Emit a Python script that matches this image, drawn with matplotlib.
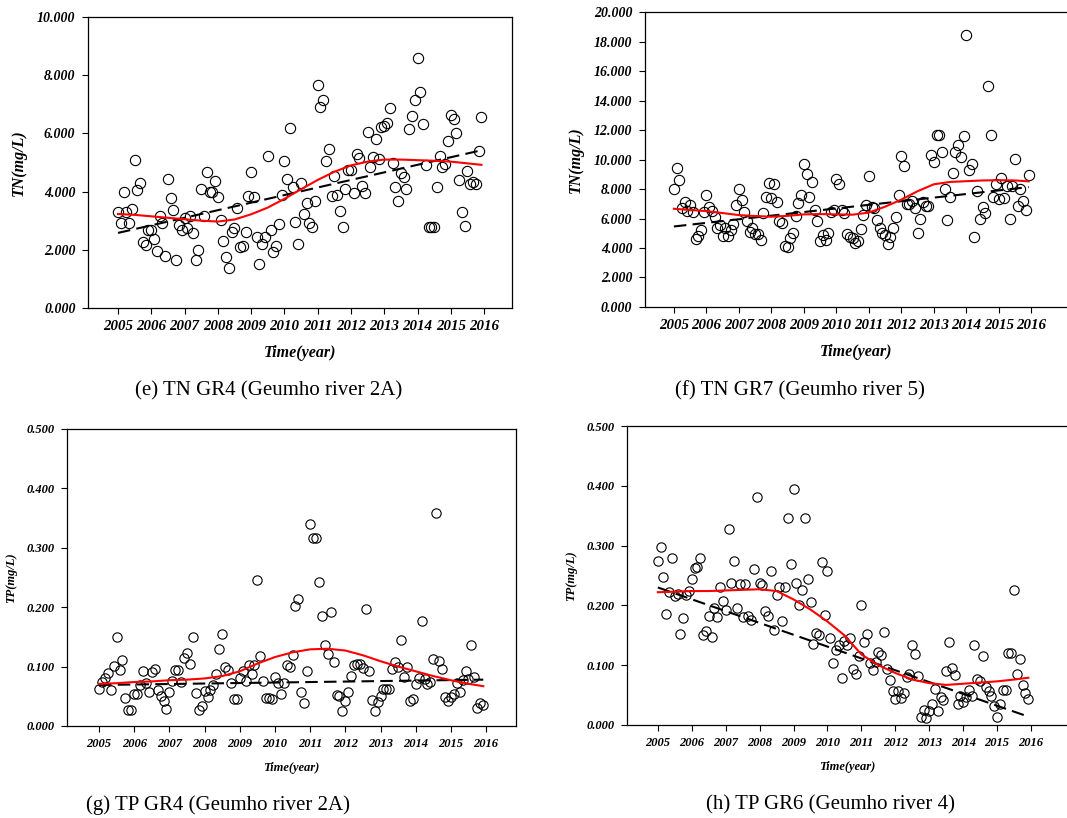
"""Monthly TN / TP concentrations at Geumho river stations, 2005-2016."""

import matplotlib

matplotlib.use("Agg")

import matplotlib.pyplot as plt
import numpy as np
from matplotlib.font_manager import FontProperties
from matplotlib.ticker import FormatStrFormatter


SERIF = "Liberation Serif"
FIRST_YEAR = 2005

# monthly measurements, Jan 2005 .. Dec 2015 (one row per year)
tn_gr4 = [
    3.30, 2.91, 4.00, 3.30, 2.93, 3.41, 5.09, 4.05, 4.30, 2.27, 2.15, 2.69,
    2.69, 2.36, 1.95, 3.15, 2.91, 1.80, 4.44, 3.79, 3.36, 1.64, 2.85, 2.69,
    3.09, 2.74, 3.17, 2.59, 1.64, 2.00, 4.08, 3.15, 4.67, 3.99, 3.99, 4.35,
    3.81, 3.04, 2.31, 1.75, 1.36, 2.60, 2.76, 3.45, 2.10, 2.12, 2.62, 3.84,
    4.69, 3.81, 2.45, 1.51, 2.19, 2.44, 5.22, 2.69, 1.92, 2.13, 2.90, 3.87,
    5.04, 4.42, 6.17, 4.17, 2.96, 2.21, 4.28, 3.24, 3.62, 2.91, 2.78, 3.68,
    7.66, 6.92, 7.14, 5.04, 5.46, 3.85, 4.55, 3.88, 3.33, 2.77, 4.08, 4.75,
    4.74, 3.96, 5.29, 5.14, 4.19, 3.96, 6.06, 4.85, 5.18, 5.80, 5.11, 6.21,
    6.27, 6.36, 6.86, 4.97, 4.17, 3.67, 4.63, 4.49, 4.08, 6.15, 6.59, 7.14,
    8.59, 7.42, 6.33, 4.91, 2.77, 2.77, 2.77, 4.15, 5.21, 4.86, 4.96, 5.75,
    6.62, 6.51, 6.01, 4.40, 3.31, 2.83, 4.70, 4.26, 4.32, 4.26, 5.41, 6.55,
]
tn_gr7 = [
    7.99, 9.41, 8.62, 6.68, 7.11, 6.52, 6.91, 6.41, 4.63, 4.83, 5.21, 6.41,
    7.56, 6.77, 6.52, 6.07, 5.33, 5.53, 4.83, 5.33, 4.83, 5.21, 5.64, 6.93,
    7.99, 7.27, 6.41, 5.82, 5.08, 5.33, 4.94, 4.94, 4.51, 6.34, 7.47, 8.42,
    7.40, 8.33, 7.11, 5.82, 5.71, 4.15, 4.06, 4.69, 4.99, 6.16, 7.02, 7.61,
    9.68, 9.05, 7.47, 8.47, 6.59, 5.80, 4.45, 4.85, 4.51, 5.01, 6.43, 6.57,
    8.67, 8.33, 6.57, 6.34, 4.94, 4.76, 4.67, 4.31, 4.45, 5.30, 6.21, 6.93,
    8.87, 6.79, 6.68, 5.91, 5.37, 5.03, 4.90, 4.27, 4.76, 5.33, 6.07, 7.58,
    10.25, 9.59, 6.99, 6.97, 7.16, 6.70, 5.03, 6.00, 7.13, 6.86, 6.88, 10.32,
    9.82, 11.63, 11.63, 10.52, 7.99, 5.89, 7.45, 9.10, 10.54, 10.95, 10.16, 11.58,
    18.42, 9.26, 9.70, 4.76, 7.85, 5.94, 6.77, 6.34, 14.99, 11.63, 7.43, 8.33,
    7.31, 8.74, 7.38, 8.22, 5.96, 8.22, 10.05, 6.86, 7.99, 7.22, 6.61, 8.94,
]
tp_gr4 = [
    0.063, 0.074, 0.080, 0.089, 0.061, 0.101, 0.150, 0.094, 0.111, 0.047, 0.027, 0.027,
    0.054, 0.054, 0.069, 0.093, 0.072, 0.058, 0.091, 0.096, 0.061, 0.050, 0.042, 0.028,
    0.058, 0.076, 0.094, 0.094, 0.074, 0.115, 0.123, 0.105, 0.150, 0.055, 0.027, 0.033,
    0.059, 0.049, 0.061, 0.069, 0.088, 0.130, 0.155, 0.099, 0.095, 0.073, 0.046, 0.046,
    0.081, 0.092, 0.075, 0.102, 0.088, 0.102, 0.246, 0.118, 0.075, 0.047, 0.047, 0.046,
    0.083, 0.072, 0.054, 0.072, 0.103, 0.099, 0.119, 0.202, 0.213, 0.057, 0.038, 0.092,
    0.340, 0.317, 0.317, 0.242, 0.185, 0.137, 0.121, 0.192, 0.108, 0.052, 0.051, 0.026,
    0.042, 0.058, 0.084, 0.103, 0.104, 0.104, 0.097, 0.197, 0.093, 0.043, 0.025, 0.040,
    0.050, 0.063, 0.063, 0.063, 0.096, 0.108, 0.100, 0.144, 0.082, 0.100, 0.042, 0.046,
    0.070, 0.081, 0.177, 0.079, 0.070, 0.074, 0.112, 0.359, 0.110, 0.096, 0.049, 0.042,
    0.049, 0.053, 0.072, 0.058, 0.078, 0.092, 0.079, 0.137, 0.083, 0.031, 0.039, 0.035,
]
tp_gr6 = [
    0.274, 0.297, 0.248, 0.185, 0.222, 0.280, 0.215, 0.219, 0.153, 0.179, 0.217, 0.224,
    0.244, 0.263, 0.265, 0.279, 0.150, 0.158, 0.183, 0.147, 0.195, 0.180, 0.230, 0.208,
    0.193, 0.328, 0.237, 0.275, 0.196, 0.235, 0.181, 0.235, 0.182, 0.176, 0.261, 0.381,
    0.237, 0.234, 0.190, 0.183, 0.257, 0.159, 0.217, 0.230, 0.174, 0.230, 0.347, 0.270,
    0.395, 0.237, 0.200, 0.226, 0.347, 0.244, 0.205, 0.135, 0.154, 0.150, 0.273, 0.184,
    0.258, 0.145, 0.104, 0.125, 0.133, 0.079, 0.140, 0.134, 0.145, 0.094, 0.086, 0.115,
    0.200, 0.138, 0.152, 0.104, 0.092, 0.106, 0.122, 0.117, 0.156, 0.094, 0.076, 0.057,
    0.043, 0.057, 0.045, 0.053, 0.080, 0.086, 0.134, 0.118, 0.082, 0.014, 0.025, 0.012,
    0.024, 0.035, 0.060, 0.023, 0.047, 0.042, 0.091, 0.139, 0.096, 0.083, 0.035, 0.048,
    0.038, 0.047, 0.059, 0.048, 0.134, 0.077, 0.073, 0.115, 0.063, 0.057, 0.048, 0.032,
    0.014, 0.035, 0.058, 0.058, 0.120, 0.120, 0.226, 0.086, 0.110, 0.067, 0.053, 0.043,
]

# smoothed (LOESS) curves every half year
smooth_years = [2005.0, 2005.5, 2006.0, 2006.5, 2007.0, 2007.5, 2008.0, 2008.5,
                2009.0, 2009.5, 2010.0, 2010.5, 2011.0, 2011.5, 2012.0, 2012.5,
                2013.0, 2013.5, 2014.0, 2014.5, 2015.0, 2015.5, 2015.92]
smooth_tn_gr4 = [3.23, 3.20, 3.15, 3.10, 3.05, 3.00, 2.97, 3.04, 3.22, 3.45, 3.75, 4.08,
                 4.40, 4.68, 4.90, 5.03, 5.10, 5.10, 5.08, 5.06, 5.03, 4.97, 4.92]
smooth_tn_gr7 = [6.66, 6.58, 6.50, 6.37, 6.23, 6.17, 6.12, 6.18, 6.28, 6.30, 6.28, 6.26,
                 6.40, 6.80, 7.28, 7.85, 8.32, 8.48, 8.53, 8.58, 8.60, 8.58, 8.52]
smooth_tp_gr4 = [0.071, 0.072, 0.074, 0.075, 0.077, 0.078, 0.080, 0.084, 0.092, 0.105,
                 0.116, 0.124, 0.129, 0.130, 0.127, 0.119, 0.109, 0.100, 0.092, 0.084,
                 0.077, 0.071, 0.067]
smooth_tp_gr6 = [0.222, 0.223, 0.224, 0.224, 0.225, 0.226, 0.227, 0.224, 0.210, 0.193,
                 0.173, 0.150, 0.118, 0.100, 0.087, 0.076, 0.070, 0.067, 0.069, 0.071,
                 0.073, 0.076, 0.079]

# linear trend lines (start / end)
trend_years = [2005.0, 2015.92]
trend_tn_gr4 = [2.58, 5.42]
trend_tn_gr7 = [5.46, 8.13]
trend_tp_gr4 = [0.069, 0.078]
trend_tp_gr6 = [0.230, 0.014]

year_ticks = list(range(2005, 2017))


def bold_italic(size):
    return {"family": SERIF, "weight": "bold", "style": "italic", "size": size}


def draw_panel(fig, rect, values, smooth, trend, ylim, yticks, ylabel, xlim,
               ytick_size, xtick_size, label_size, marker_size, show_right=True):
    ax = fig.add_axes(rect)
    months = FIRST_YEAR + np.arange(len(values)) / 12.0

    ax.plot(months, values, linestyle="none", marker="o", markersize=marker_size,
            markerfacecolor="none", markeredgecolor="black", markeredgewidth=0.8,
            zorder=3)
    ax.plot(trend_years, trend, color="black", linewidth=1.5, dashes=(6, 3), zorder=2)
    ax.plot(smooth_years, smooth, color="red", linewidth=1.5, zorder=4)

    ax.set_xlim(*xlim)
    ax.set_ylim(*ylim)
    ax.set_xticks(year_ticks)
    ax.set_yticks(yticks)
    ax.yaxis.set_major_formatter(FormatStrFormatter("%.3f"))
    ax.tick_params(direction="out", length=4, width=0.8, pad=5)
    for label in ax.get_xticklabels():
        label.set_fontproperties(FontProperties(**bold_italic(xtick_size)))
    for label in ax.get_yticklabels():
        label.set_fontproperties(FontProperties(**bold_italic(ytick_size)))

    for spine in ax.spines.values():
        spine.set_linewidth(0.9)
    ax.spines["right"].set_visible(show_right)

    ax.set_xlabel("Time(year)", fontdict=bold_italic(label_size), labelpad=8)
    ax.set_ylabel(ylabel, fontdict=bold_italic(label_size), labelpad=7)
    return ax


def main():
    fig = plt.figure(figsize=(10.67, 8.18), dpi=100)

    draw_panel(fig, [0.0825, 0.6235, 0.3974, 0.3557], tn_gr4, smooth_tn_gr4, trend_tn_gr4,
               (0, 10), np.arange(0, 10.1, 2), "TN(mg/L)", (2004.10, 2016.84),
               10, 10.8, 11.5, 7.4)
    draw_panel(fig, [0.6045, 0.6247, 0.3955, 0.3606], tn_gr7, smooth_tn_gr7, trend_tn_gr7,
               (0, 20), np.arange(0, 20.1, 2), "TN(mg/L)", (2004.11, 2017.1),
               10, 10.8, 11.5, 7.4, show_right=False)
    draw_panel(fig, [0.0628, 0.1125, 0.4208, 0.3631], tp_gr4, smooth_tp_gr4, trend_tp_gr4,
               (0, 0.5), np.arange(0, 0.51, 0.1), "TP(mg/L)", (2004.09, 2016.85),
               9, 9, 9, 6.7)
    draw_panel(fig, [0.5876, 0.1137, 0.4124, 0.3655], tp_gr6, smooth_tp_gr6, trend_tp_gr6,
               (0, 0.5), np.arange(0, 0.51, 0.1), "TP(mg/L)", (2004.09, 2017.06),
               9, 9, 9, 6.7, show_right=False)

    captions = [
        (269, 391, "(e) TN GR4 (Geumho river 2A)"),
        (800, 391, "(f) TN GR7 (Geumho river 5)"),
        (218, 805, "(g) TP GR4 (Geumho river 2A)"),
        (831, 805, "(h) TP GR6 (Geumho river 4)"),
    ]
    for x_px, y_px, text in captions:
        fig.text(x_px / 1067, 1 - y_px / 818, text, ha="center", va="center",
                 family=SERIF, size=15)

    fig.savefig("out.png", dpi=100)
    plt.close(fig)


if __name__ == "__main__":
    main()
